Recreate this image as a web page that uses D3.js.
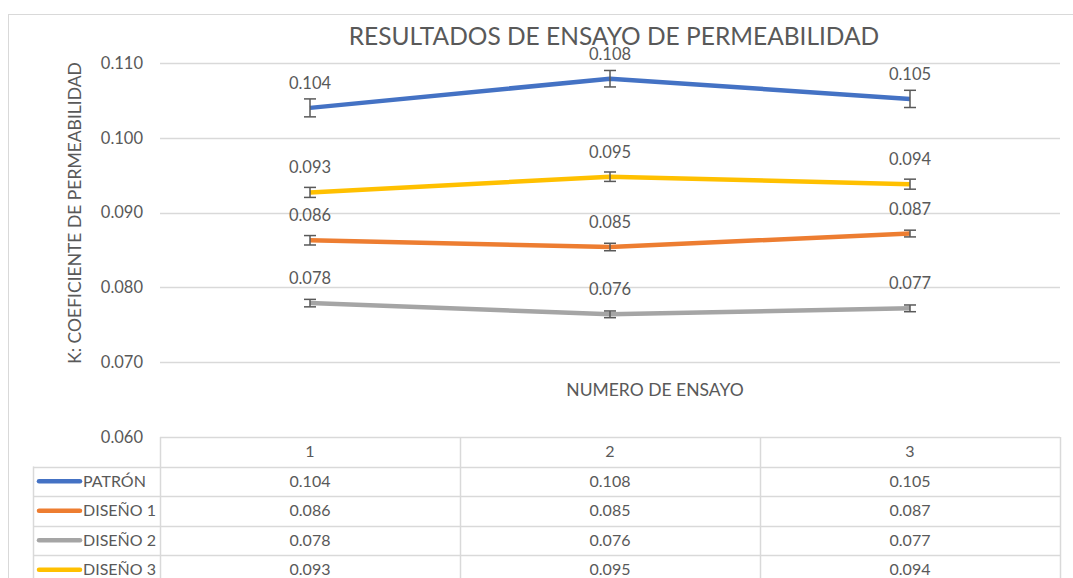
<!DOCTYPE html>
<html>
<head>
<meta charset="utf-8">
<script src="https://cdn.jsdelivr.net/npm/d3@7"></script>
<style>
  html, body { margin: 0; padding: 0; background: #fff; }
  svg text { font-family: Lato, "Open Sans", sans-serif; fill: #595959; }
</style>
</head>
<body>
<div id="contents"></div>
<script>
'use strict';

// data
var ensayos  = ['1', '2', '3'];
var series   = ['PATRÓN', 'DISEÑO 1', 'DISEÑO 2', 'DISEÑO 3'];
var colors   = ['#4472c4', '#ed7d31', '#a5a5a5', '#ffc000'];
var patron   = [0.1040, 0.1079, 0.1052];
var diseno1  = [0.0863, 0.0854, 0.0872];
var diseno2  = [0.0779, 0.0764, 0.0772];
var diseno3  = [0.0927, 0.0948, 0.0938];
var errPatron  = [0.0012, 0.0011, 0.00115];
var errDiseno1 = [0.00063, 0.0005, 0.00045];
var errDiseno2 = [0.0005, 0.00045, 0.00045];
var errDiseno3 = [0.00067, 0.00063, 0.00067];
var yTicks   = [0.060, 0.070, 0.080, 0.090, 0.100, 0.110];

var values = [patron, diseno1, diseno2, diseno3];
var errors = [errPatron, errDiseno1, errDiseno2, errDiseno3];

window.onload = function() {
    var W = 1073, H = 578;
    var LEFT = 160, RIGHT = 1060, TOP = 63, BOTTOM = 437;
    var ROW_H = 29.5;
    var LEGEND_X = 33;

    var svg = d3.select('#contents').append('svg')
        .attr('width', W).attr('height', H);

    // chart frame
    svg.append('rect')
        .attr('x', 8.5).attr('y', 14.5)
        .attr('width', W + 10).attr('height', H)
        .attr('fill', '#fff').attr('stroke', '#d9d9d9');

    var x = d3.scaleBand().domain(ensayos).range([LEFT, RIGHT]);
    var y = d3.scaleLinear().domain([0.060, 0.110]).range([BOTTOM, TOP]);
    var fmt = d3.format('.3f');

    // gridlines
    svg.append('g')
        .selectAll('line')
        .data(yTicks.slice(1))
        .enter()
        .append('line')
        .attr('x1', LEFT).attr('x2', RIGHT)
        .attr('y1', function(d){ return Math.round(y(d)) + 0.5; })
        .attr('y2', function(d){ return Math.round(y(d)) + 0.5; })
        .attr('stroke', '#d9d9d9').attr('stroke-width', 1.5);

    // y tick labels
    svg.append('g')
        .selectAll('text')
        .data(yTicks)
        .enter()
        .append('text')
        .attr('x', 143)
        .attr('y', function(d){ return y(d); })
        .attr('dy', '0.35em')
        .attr('text-anchor', 'end')
        .attr('font-size', 16.5)
        .text(fmt);

    // titles
    svg.append('text')
        .attr('x', 614).attr('y', 45)
        .attr('text-anchor', 'middle')
        .attr('font-size', 24.5)
        .text('RESULTADOS DE ENSAYO DE PERMEABILIDAD');

    svg.append('text')
        .attr('transform', 'translate(81,213) rotate(-90)')
        .attr('text-anchor', 'middle')
        .attr('font-size', 17.5)
        .text('K: COEFICIENTE DE PERMEABILIDAD');

    svg.append('text')
        .attr('x', 655).attr('y', 396)
        .attr('text-anchor', 'middle')
        .attr('font-size', 17.5)
        .text('NUMERO DE ENSAYO');

    // lines
    var line = d3.line()
        .x(function(d, i){ return x(ensayos[i]) + x.bandwidth() / 2; })
        .y(function(d){ return y(d); });

    var plot = svg.append('g');
    values.forEach(function(vals, s) {
        plot.append('path')
            .datum(vals)
            .attr('d', line)
            .attr('fill', 'none')
            .attr('stroke', colors[s])
            .attr('stroke-width', 4.5)
            .attr('stroke-linejoin', 'round');
    });

    // error bars
    values.forEach(function(vals, s) {
        var g = plot.append('g');
        vals.forEach(function(v, i) {
            var cx = x(ensayos[i]) + x.bandwidth() / 2;
            var e = errors[s][i];
            g.append('line')
                .attr('x1', cx).attr('x2', cx)
                .attr('y1', y(v + e)).attr('y2', y(v - e))
                .attr('stroke', '#595959').attr('stroke-width', 1.5);
            [v + e, v - e].forEach(function(t) {
                g.append('line')
                    .attr('x1', cx - 6).attr('x2', cx + 6)
                    .attr('y1', y(t)).attr('y2', y(t))
                    .attr('stroke', '#595959').attr('stroke-width', 1.5);
            });
        });
    });

    // data labels
    values.forEach(function(vals, s) {
        plot.append('g')
            .selectAll('text')
            .data(vals)
            .enter()
            .append('text')
            .attr('x', function(d, i){ return x(ensayos[i]) + x.bandwidth() / 2; })
            .attr('y', function(d){ return y(d) - 19; })
            .attr('text-anchor', 'middle')
            .attr('font-size', 16.5)
            .text(fmt);
    });

    // data table
    var table = svg.append('g');
    var gridColor = '#d9d9d9';
    var rowsBottom = BOTTOM + ROW_H * (series.length + 1);

    // horizontal lines
    table.append('line')
        .attr('x1', LEFT).attr('x2', RIGHT)
        .attr('y1', BOTTOM + 0.5).attr('y2', BOTTOM + 0.5)
        .attr('stroke', gridColor).attr('stroke-width', 1.5);
    d3.range(1, series.length + 1).forEach(function(r) {
        var yy = Math.round(BOTTOM + r * ROW_H) + 0.5;
        table.append('line')
            .attr('x1', LEGEND_X).attr('x2', RIGHT)
            .attr('y1', yy).attr('y2', yy)
            .attr('stroke', gridColor).attr('stroke-width', 1.5);
    });
    // vertical lines
    table.append('line')
        .attr('x1', LEGEND_X + 0.5).attr('x2', LEGEND_X + 0.5)
        .attr('y1', BOTTOM + ROW_H).attr('y2', rowsBottom)
        .attr('stroke', gridColor).attr('stroke-width', 1.5);
    ensayos.forEach(function(c) {
        table.append('line')
            .attr('x1', Math.round(x(c)) + 0.5).attr('x2', Math.round(x(c)) + 0.5)
            .attr('y1', BOTTOM).attr('y2', rowsBottom)
            .attr('stroke', gridColor).attr('stroke-width', 1.5);
    });
    table.append('line')
        .attr('x1', RIGHT + 0.5).attr('x2', RIGHT + 0.5)
        .attr('y1', BOTTOM).attr('y2', rowsBottom)
        .attr('stroke', gridColor).attr('stroke-width', 1.5);

    // header
    table.selectAll('.head')
        .data(ensayos)
        .enter()
        .append('text')
        .attr('x', function(d){ return x(d) + x.bandwidth() / 2; })
        .attr('y', BOTTOM + ROW_H / 2)
        .attr('dy', '0.35em')
        .attr('text-anchor', 'middle')
        .attr('font-size', 16)
        .text(function(d){ return d; });

    // rows
    series.forEach(function(name, s) {
        var cy = BOTTOM + ROW_H * (s + 1) + ROW_H / 2;
        table.append('line')
            .attr('x1', 39).attr('x2', 80)
            .attr('y1', cy).attr('y2', cy)
            .attr('stroke', colors[s]).attr('stroke-width', 4.5)
            .attr('stroke-linecap', 'round');
        table.append('text')
            .attr('x', 83).attr('y', cy)
            .attr('dy', '0.35em')
            .attr('font-size', 16)
            .text(name);
        table.append('g')
            .selectAll('text')
            .data(values[s])
            .enter()
            .append('text')
            .attr('x', function(d, i){ return x(ensayos[i]) + x.bandwidth() / 2; })
            .attr('y', cy)
            .attr('dy', '0.35em')
            .attr('text-anchor', 'middle')
            .attr('font-size', 16)
            .text(fmt);
    });
};
</script>
</body>
</html>
